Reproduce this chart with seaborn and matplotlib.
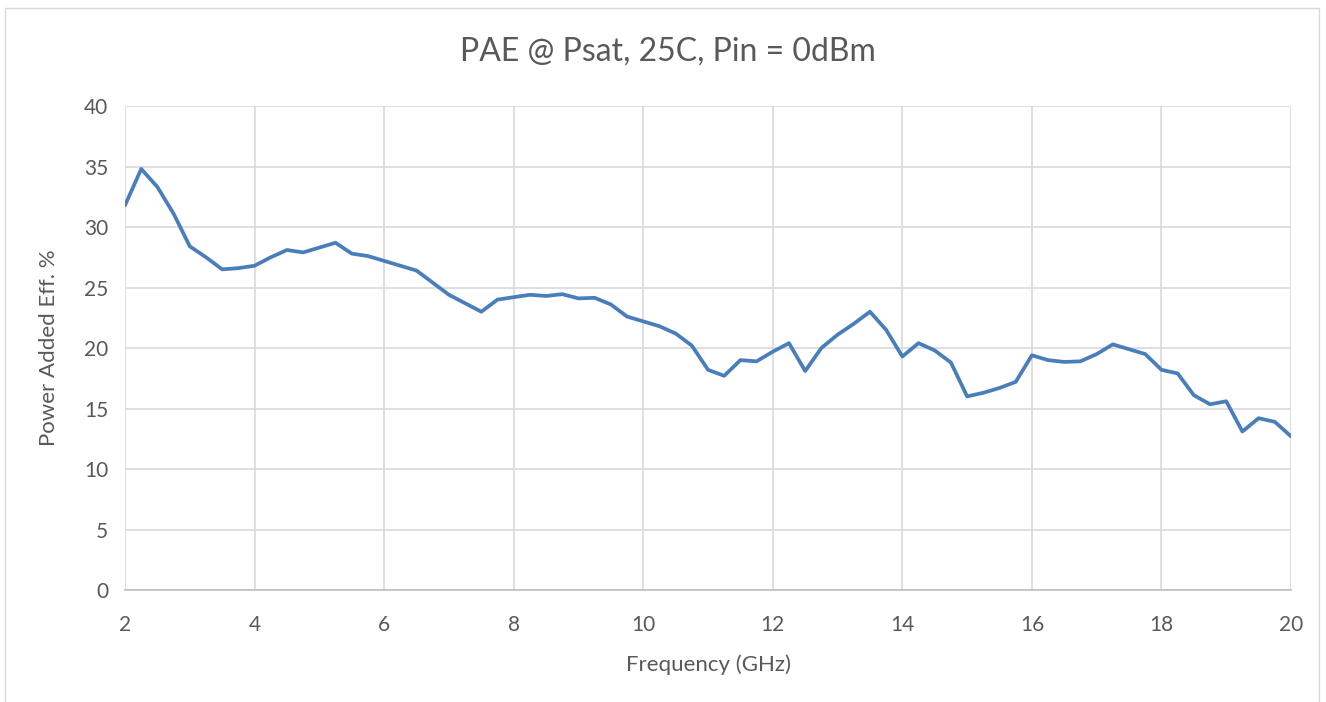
import numpy as np
import pandas as pd
import matplotlib
matplotlib.use("Agg")
import matplotlib.pyplot as plt
import seaborn as sns
from matplotlib.patches import Rectangle

freq = [2.00, 2.25, 2.50, 2.75, 3.00, 3.25, 3.50, 3.75, 4.00, 4.25, 4.50, 4.75,
        5.00, 5.25, 5.50, 5.75, 6.00, 6.25, 6.50, 6.75, 7.00, 7.25, 7.50, 7.75,
        8.00, 8.25, 8.50, 8.75, 9.00, 9.25, 9.50, 9.75, 10.00, 10.25, 10.50, 10.75,
        11.00, 11.25, 11.50, 11.75, 12.00, 12.25, 12.50, 12.75, 13.00, 13.25, 13.50, 13.75,
        14.00, 14.25, 14.50, 14.75, 15.00, 15.25, 15.50, 15.75, 16.00, 16.25, 16.50, 16.75,
        17.00, 17.25, 17.50, 17.75, 18.00, 18.25, 18.50, 18.75, 19.00, 19.25, 19.50, 19.75,
        20.00]
pae = [31.8, 34.8, 33.3, 31.1, 28.4, 27.5, 26.5, 26.6, 26.8, 27.5, 28.1, 27.9,
       28.3, 28.7, 27.8, 27.6, 27.2, 26.8, 26.4, 25.4, 24.4, 23.7, 23.0, 24.0,
       24.2, 24.4, 24.3, 24.45, 24.1, 24.15, 23.6, 22.6, 22.2, 21.8, 21.2, 20.2,
       18.2, 17.7, 19.0, 18.9, 19.7, 20.4, 18.1, 20.0, 21.1, 22.0, 23.0, 21.5,
       19.3, 20.4, 19.8, 18.8, 16.0, 16.3, 16.7, 17.2, 19.4, 19.0, 18.85, 18.9,
       19.5, 20.3, 19.9, 19.5, 18.2, 17.9, 16.1, 15.35, 15.6, 13.1, 14.2, 13.9,
       12.7]
x_ticks = [2, 4, 6, 8, 10, 12, 14, 16, 18, 20]
y_ticks = [0, 5, 10, 15, 20, 25, 30, 35, 40]

title = "PAE @ Psat, 25C, Pin = 0dBm"
xlabel = "Frequency (GHz)"
ylabel = "Power Added Eff. %"

sns.set_theme(style="white")
plt.rcParams['font.family'] = ['Lato', 'DejaVu Sans']

text_color = "#595959"
grid_color = "#d9d9d9"
line_color = "#4a7ebb"

fig = plt.figure(figsize=(13.26, 7.02), dpi=100)
ax = fig.add_axes([0.0943, 0.1595, 0.8793, 0.6895])

df = pd.DataFrame({"freq": freq, "pae": pae})
sns.lineplot(data=df, x="freq", y="pae", ax=ax, color=line_color, linewidth=2.7,
             solid_joinstyle="round", solid_capstyle="round")

ax.set_xlim(2, 20)
ax.set_ylim(0, 40)
ax.set_xticks(x_ticks)
ax.set_yticks(y_ticks)
ax.grid(True, color=grid_color, linewidth=1.2)
ax.set_axisbelow(True)
for s in ["top", "right", "left"]:
    ax.spines[s].set_visible(False)
ax.spines["bottom"].set_color("#bfbfbf")
ax.spines["bottom"].set_linewidth(1.2)
ax.tick_params(axis="both", length=0, labelsize=15, colors=text_color)
ax.tick_params(axis="y", pad=12)
ax.tick_params(axis="x", pad=18)

ax.set_xlabel(xlabel, fontsize=16, color=text_color, labelpad=14)
ax.set_ylabel(ylabel, fontsize=16, color=text_color, labelpad=18)
fig.text(0.504, 0.927, title, ha="center", va="center", fontsize=23, color=text_color)

fig.patches.append(Rectangle((0.004, -0.01), 0.991, 0.998, transform=fig.transFigure,
                             fill=False, edgecolor=grid_color, linewidth=1.0))

fig.savefig("out.png", dpi=100, facecolor="white")
